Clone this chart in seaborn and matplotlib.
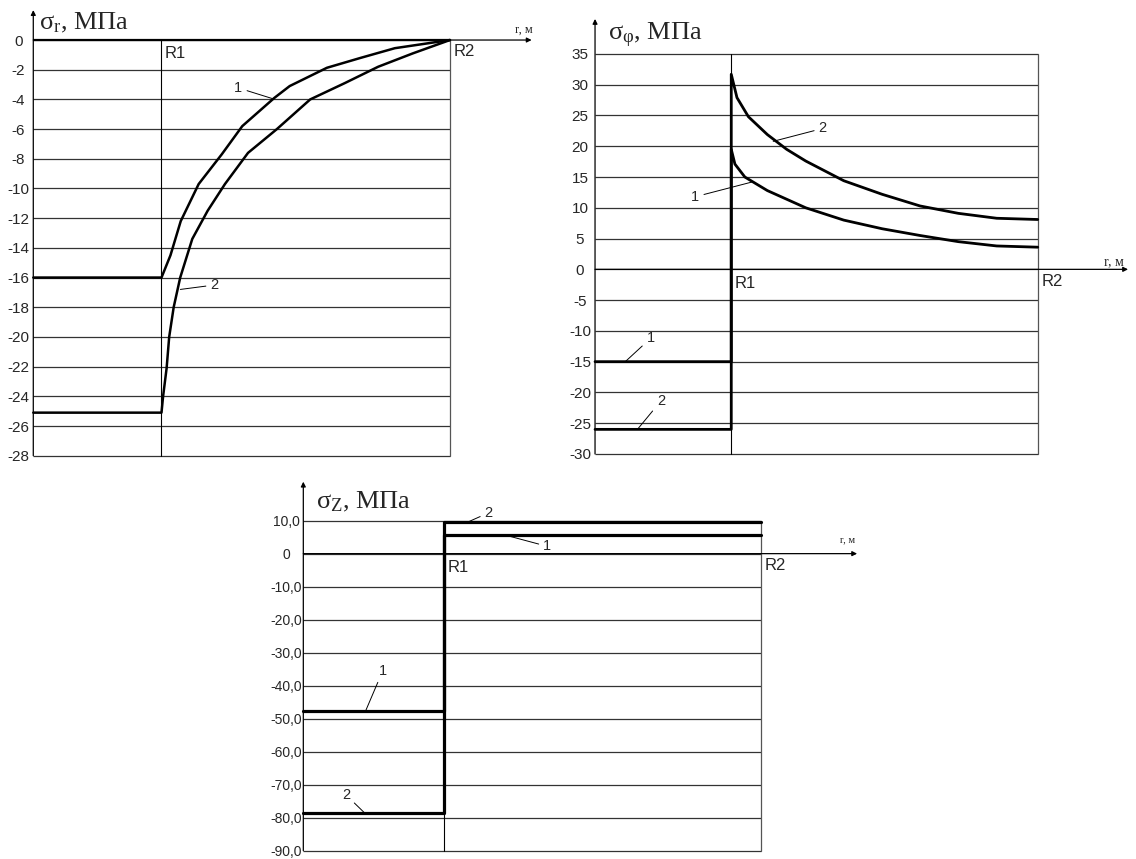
import numpy as np
import pandas as pd
import matplotlib.pyplot as plt
import seaborn as sns

sns.set_style("white")
plt.rcParams['font.family'] = ['Liberation Sans', 'DejaVu Sans']
plt.rcParams['mathtext.fontset'] = 'custom'
plt.rcParams['mathtext.rm'] = 'Liberation Serif'
plt.rcParams['mathtext.it'] = 'Liberation Serif:italic'

R1 = 1.0
R2 = 3.25

# sigma_r, MPa
sr_r1 = [1.0, 1.07, 1.15, 1.29, 1.47, 1.63, 1.88, 2.00, 2.29, 2.55, 2.82, 3.25]
sr_v1 = [-16, -14.5, -12.2, -9.7, -7.7, -5.8, -3.9, -3.1, -1.87, -1.21, -0.55, 0]
sr_r2 = [1.0, 1.0125, 1.04, 1.06, 1.095, 1.146, 1.24, 1.36, 1.495, 1.675, 1.9, 2.16, 2.43, 2.69, 2.96, 3.25]
sr_v2 = [-25.1, -24, -22.1, -20, -18, -16, -13.4, -11.5, -9.7, -7.6, -6, -4, -2.9, -1.8, -0.9, 0]
sr_left = [-16, -25.1]
sr_ticks = list(range(0, -29, -2))

# sigma_phi, MPa
sf_r1 = [1.0, 1.027, 1.10, 1.265, 1.547, 1.826, 2.107, 2.386, 2.667, 2.949, 3.25]
sf_v1 = [19.5, 17.1, 15, 12.8, 10, 8.0, 6.6, 5.5, 4.5, 3.8, 3.6]
sf_r2 = [1.0, 1.042, 1.126, 1.265, 1.407, 1.547, 1.826, 2.107, 2.386, 2.667, 2.949, 3.25]
sf_v2 = [31.7, 27.9, 24.8, 21.9, 19.5, 17.6, 14.4, 12.2, 10.3, 9.1, 8.3, 8.1]
sf_left = [-15, -26]
sf_ticks = list(range(35, -31, -5))

# sigma_z, MPa
sz_left = [-47.7, -78.6]
sz_right = [5.7, 9.7]
sz_ticks = list(range(10, -91, -10))
sz_labels = ['0' if v == 0 else f'{v},0' for v in sz_ticks]

fig = plt.figure(figsize=(11.36, 8.59), dpi=100)
ax1 = fig.add_axes([0.0293, 0.4695, 0.3668, 0.4839])
ax2 = fig.add_axes([0.5238, 0.4715, 0.3897, 0.4657])
ax3 = fig.add_axes([0.2670, 0.0097, 0.4029, 0.3842])


def frame(ax, ticks, labels, ylim, pad, tip_x, tip_y, title, title_xy, rlab_xy, rlab_fs, lab_fs):
    ax.set_xlim(0, R2)
    ax.set_ylim(*ylim)
    ax.set_xticks([])
    ax.set_yticks(ticks, labels)
    ax.tick_params(axis='y', length=0, pad=pad, labelsize=lab_fs)
    for t in ax.get_yticklabels():
        t.set_horizontalalignment('center')
    for s in ax.spines.values():
        s.set_visible(False)
    ax.hlines(ticks, 0, R2, color='#333333', lw=0.9, clip_on=False, zorder=1)
    ax.axvline(R1, color='black', lw=0.8, clip_on=False, zorder=1)
    ax.axvline(R2, color='#555555', lw=0.9, clip_on=False, zorder=1)
    # axes with arrows
    ax.annotate('', xy=(0, tip_y), xycoords='axes fraction', xytext=(0, 0),
                textcoords='axes fraction', annotation_clip=False,
                arrowprops=dict(arrowstyle='-|>', color='black', lw=0.9,
                                shrinkA=0, shrinkB=0, mutation_scale=7))
    ax.annotate('', xy=(tip_x, 0), xycoords=('axes fraction', 'data'), xytext=(0, 0),
                textcoords=('axes fraction', 'data'), annotation_clip=False,
                arrowprops=dict(arrowstyle='-|>', color='black', lw=0.9,
                                shrinkA=0, shrinkB=0, mutation_scale=7))
    ax.text(title_xy[0], title_xy[1], title, transform=ax.transAxes,
            family='Liberation Serif', fontsize=19, va='baseline', ha='left')
    ax.text(rlab_xy[0], rlab_xy[1], 'r, м', transform=ax.transAxes,
            family='Liberation Serif', fontsize=rlab_fs, va='center', ha='center')
    ax.annotate('R1', xy=(R1, 0), xytext=(2.5, -4.5), textcoords='offset points',
                ha='left', va='top', fontsize=12, annotation_clip=False)
    ax.annotate('R2', xy=(R2, 0), xytext=(2.5, -3), textcoords='offset points',
                ha='left', va='top', fontsize=12, annotation_clip=False)


def curve(ax, r, v, lw):
    df = pd.DataFrame({'r': r, 'v': v})
    sns.lineplot(data=df, x='r', y='v', ax=ax, color='black', lw=lw,
                 sort=False, estimator=None, legend=False)
    ax.lines[-1].set_solid_joinstyle('round')


def mark(ax, txt, xy, xytext):
    ax.annotate(txt, xy=xy, xytext=xytext, ha='center', va='center', fontsize=10.5,
                annotation_clip=False,
                arrowprops=dict(arrowstyle='-', color='black', lw=0.7, shrinkA=1, shrinkB=0))


# panel 1: sigma_r
frame(ax1, sr_ticks, [str(v) for v in sr_ticks], (-28, 0), 10.8, 1.196, 1.072,
      r'$\mathrm{σ}_{\mathrm{r}}$, МПа', (0.014, 1.026), (1.178, 1.024), 9, 11)
ax1.hlines(0, 0, R2, color='black', lw=1.6, clip_on=False, zorder=2)
curve(ax1, [0, R1] + sr_r1, [sr_left[0], sr_left[0]] + sr_v1, 1.8)
curve(ax1, [0, R1] + sr_r2, [sr_left[1], sr_left[1]] + sr_v2, 1.8)
mark(ax1, '1', (1.867, -3.95), (1.60, -3.23))
mark(ax1, '2', (1.147, -16.8), (1.414, -16.5))

# panel 2: sigma_phi
frame(ax2, sf_ticks, [str(v) for v in sf_ticks], (-30, 35), 10.8, 1.204, 1.0875,
      r'$\mathrm{σ}_{\mathrm{φ}}$, МПа', (0.029, 1.035), (1.172, 0.481), 10, 11)
curve(ax2, [0, R1] + sf_r1, [sf_left[0], sf_left[0]] + sf_v1, 2.0)
curve(ax2, [0, R1] + sf_r2, [sf_left[1], sf_left[1]] + sf_v2, 2.0)
mark(ax2, '2', (1.308, 20.8), (1.672, 22.9))
mark(ax2, '1', (1.154, 14.2), (0.736, 11.8))
mark(ax2, '1', (0.222, -15.0), (0.408, -11.2))
mark(ax2, '2', (0.315, -25.9), (0.483, -21.4))

# panel 3: sigma_z
frame(ax3, sz_ticks, sz_labels, (-90, 10), 12.2, 1.210, 1.118,
      r'$\mathrm{σ}_{\mathrm{Z}}$, МПа', (0.028, 1.038), (1.190, 0.9415), 7.5, 10)
for i in range(2):
    curve(ax3, [0, R1, R1, R2], [sz_left[i], sz_left[i], sz_right[i], sz_right[i]], 2.3)
mark(ax3, '2', (1.18, 9.8), (1.317, 12.4))
mark(ax3, '1', (1.427, 5.7), (1.733, 2.2))
mark(ax3, '1', (0.442, -47.7), (0.564, -35.5))
mark(ax3, '2', (0.436, -78.6), (0.303, -73.1))

for ax in (ax1, ax2, ax3):
    ax.set_xlabel('')
    ax.set_ylabel('')
    for ln in ax.lines:
        ln.set_clip_on(False)

fig.savefig('out.png', dpi=100)
